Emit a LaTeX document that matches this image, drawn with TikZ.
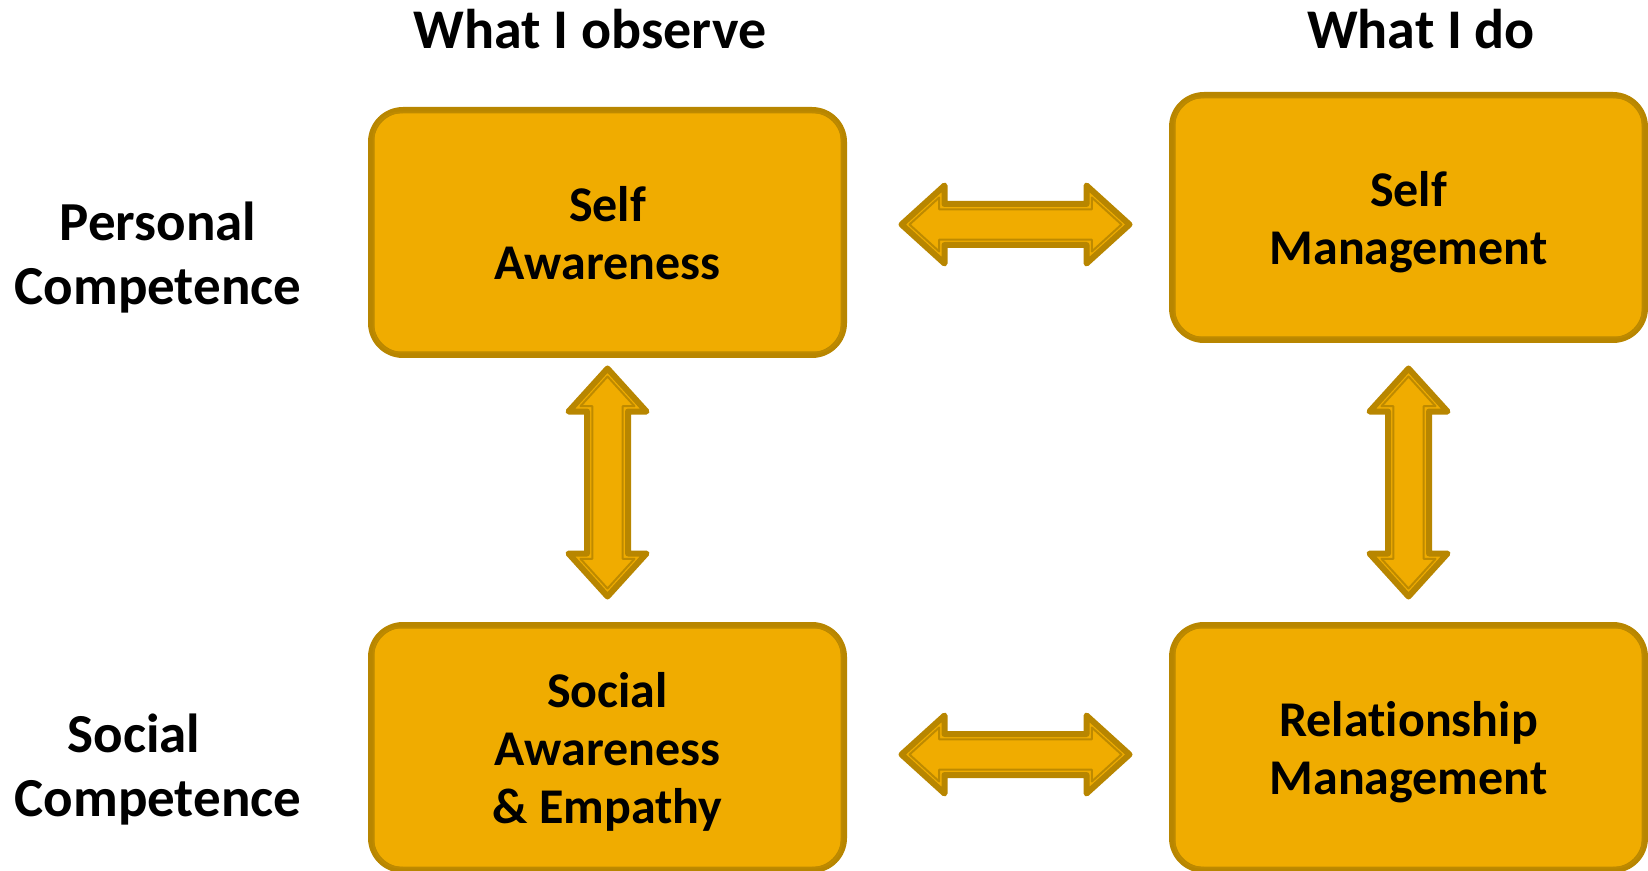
\documentclass[tikz,border=0pt]{standalone}
\usepackage{fontspec}
\setmainfont{Carlito}[Ligatures={TeX,NoCommon}]
\definecolor{goldfill}{RGB}{240,172,0}
\definecolor{goldedge}{RGB}{184,134,0}
\definecolor{goldline}{RGB}{190,138,0}
\tikzset{
  box/.style={draw=goldedge,fill=goldfill,line width=3pt,rounded corners=16pt,
    minimum width=236.5pt,minimum height=122.5pt,inner sep=0pt,align=center,text depth=0pt,
    font=\fontsize{25}{29}\selectfont\bfseries},
  blockarrow/.style={draw=goldedge,fill=goldfill,line width=3pt,line join=round},
  innerline/.style={draw=goldline,line width=1pt,line join=round},
  head/.style={anchor=base,inner sep=0pt,font=\fontsize{28}{32}\selectfont\bfseries},
  side/.style={anchor=south,inner sep=0pt,align=center,text depth=0pt,
    font=\fontsize{27.5}{32}\selectfont\bfseries}
}
\begin{document}
\begin{tikzpicture}[x=.5pt,y=-.5pt]
  \useasboundingbox (0,0) rectangle (1648,871);
  % column and row labels
  \node[head] (obs) at (590,49) {What I observe};
  \node[head] (do) at (1421,49) {What I do};
  \node[side] (pc) at (158,305) {Personal\\Competence};
  \node[side] (sc) at (158,817) {Social\hspace*{24pt}\mbox{}\\Competence};
  % the four boxes
  \node[box] (sa) at (607.5,232.5) {Self\\Awareness};
  \node[box] (sm) at (1408.5,217.5) {Self\\Management};
  \node[box] (ss) at (607.5,747.5) {Social\\Awareness\\\& Empathy};
  \node[box] (rm) at (1408.5,747.5) {Relationship\\Management};
  \foreach \b in {sa,sm,ss,rm}
    \draw[innerline,rounded corners=13pt] ([shift={(5.5,5.5)}]\b.north west) rectangle ([shift={(-5.5,-5.5)}]\b.south east);
  % double arrows between them
  \coordinate (ha) at (1015.5,224.5);
  \coordinate (hb) at (1015.5,754.5);
  \coordinate (va) at (607.5,482.5);
  \coordinate (vb) at (1408.5,482.5);
  \foreach \c/\r in {ha/0,hb/0,va/90,vb/90} {
    \draw[blockarrow,shift={(\c)},rotate=\r] (-114,0) -- (-71,-39) -- (-71,-20.5) -- (71,-20.5) -- (71,-39) -- (114,0)
      -- (71,39) -- (71,20.5) -- (-71,20.5) -- (-71,39) -- cycle;
    \draw[innerline,shift={(\c)},rotate=\r] (-106,0) -- (-76.3,-27) -- (-76.3,-15.2) -- (76.3,-15.2) -- (76.3,-27) -- (106,0)
      -- (76.3,27) -- (76.3,15.2) -- (-76.3,15.2) -- (-76.3,27) -- cycle;
  }
\end{tikzpicture}
\end{document}
